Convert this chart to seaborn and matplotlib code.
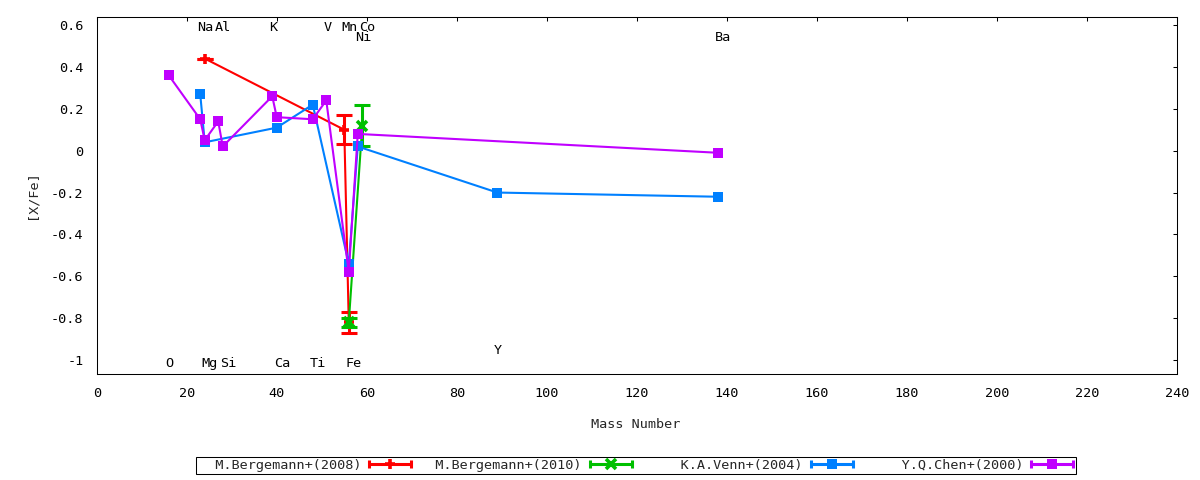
import numpy as np
import pandas as pd
import matplotlib
matplotlib.use("Agg")
import matplotlib.pyplot as plt
import seaborn as sns
from matplotlib.lines import Line2D
from matplotlib.legend_handler import HandlerLine2D, HandlerTuple
from matplotlib.ticker import FuncFormatter

# ---------------- data ----------------
berg08_mass = [24, 55, 56]
berg08_val = [0.44, 0.10, -0.82]
berg08_err = [0.0, 0.07, 0.05]

berg10_mass = [56, 59]
berg10_val = [-0.82, 0.12]
berg10_err = [0.02, 0.10]

venn_mass = [23, 24, 40, 48, 56, 58, 89, 138]
venn_val = [0.27, 0.04, 0.11, 0.22, -0.54, 0.02, -0.20, -0.22]

chen_mass = [16, 23, 24, 27, 28, 39, 40, 48, 51, 56, 58, 138]
chen_val = [0.36, 0.15, 0.05, 0.14, 0.02, 0.26, 0.16, 0.15, 0.24, -0.58, 0.08, -0.01]

label_text = ["O", "Na", "Mg", "Al", "Si", "K", "Ca", "Ti", "V", "Mn", "Fe", "Co", "Ni", "Y", "Ba"]
label_mass = [16, 23, 24, 27, 28, 39, 40, 48, 51, 55, 56, 59, 58, 89, 138]
label_y = [-1.015, 0.59, -1.015, 0.59, -1.015, 0.59, -1.015, -1.015, 0.59, 0.59, -1.015, 0.59, 0.54, -0.952, 0.54]

series_names = ["M.Bergemann+(2008)", "M.Bergemann+(2010)", "K.A.Venn+(2004)", "Y.Q.Chen+(2000)"]
x_ticks = list(range(0, 241, 20))
y_ticks = [-1.0, -0.8, -0.6, -0.4, -0.2, 0.0, 0.2, 0.4, 0.6]

# ---------------- style ----------------
sns.set_theme(style="white")
plt.rcParams["font.family"] = ["DejaVu Sans Mono", "DejaVu Sans"]
plt.rcParams["axes.unicode_minus"] = False
FS = 9.7

colors = ["#ff0000", "#00c000", "#0080ff", "#c000ff"]
markers = ["+", "x", "s", "s"]

fig = plt.figure(figsize=(12, 4.8), dpi=100)
W, H = 1200, 480
left, right, top, bottom = 96.7, 1177.0, 17.5, 374.3
ax = fig.add_axes([left / W, 1 - bottom / H, (right - left) / W, (bottom - top) / H])

series = [
    (berg08_mass, berg08_val, berg08_err),
    (berg10_mass, berg10_val, berg10_err),
    (venn_mass, venn_val, None),
    (chen_mass, chen_val, None),
]

for i, (m, v, e) in enumerate(series):
    c = colors[i]
    mk = markers[i]
    z = 2 + i
    if e is not None:
        ax.errorbar(m, v, yerr=e, fmt="none", ecolor=c, elinewidth=2.2,
                    capsize=5.8, capthick=2.2, zorder=z)
    df = pd.DataFrame({"mass": m, "val": v})
    if mk == "s":
        mkw = dict(marker="s", markersize=7.2, markeredgewidth=0, markerfacecolor=c, markeredgecolor=c)
    else:
        mkw = dict(marker=mk, markersize=7, markeredgewidth=2.6, markeredgecolor=c)
    sns.lineplot(data=df, x="mass", y="val", sort=False, estimator=None, color=c,
                 lw=1.5, ax=ax, legend=False, zorder=z, **mkw)

ax.set_xlim(0, 240)
ax.set_ylim(-1.068, 0.636)
ax.set_xticks(x_ticks)
ax.set_yticks(y_ticks)


def fmt(v, p):
    r = round(v, 2)
    if r == 0:
        r = 0
    return f"{r:g}"


ax.xaxis.set_major_formatter(FuncFormatter(fmt))
ax.yaxis.set_major_formatter(FuncFormatter(fmt))
ax.tick_params(direction="in", length=3.2, width=0.75, top=True, right=True,
               labelsize=FS, pad=9.5, colors="black")
for s in ax.spines.values():
    s.set_linewidth(0.75)
    s.set_color("black")

for t, mm, yy in zip(label_text, label_mass, label_y):
    ax.annotate(t, xy=(mm, yy), xytext=(-2.2, 0), textcoords="offset points",
                ha="left", va="center", fontsize=FS, color="black")

ax.set_xlabel("Mass Number", fontsize=FS)
ax.set_ylabel("[X/Fe]", fontsize=FS)
ax.xaxis.label.set_va("center")
ax.xaxis.set_label_coords((636 - left) / (right - left), (bottom - 425) / (bottom - top))
ax.yaxis.label.set_va("center")
ax.yaxis.set_label_coords((32 - left) / (right - left), (bottom - 195) / (bottom - top))

# ---------------- legend ----------------
handles = []
hmap = {}
for i in range(4):
    c = colors[i]
    caps = Line2D([], [], color=c, lw=2.2, marker="|", markersize=6, markeredgewidth=2.2)
    if markers[i] == "s":
        mid = Line2D([], [], color=c, lw=0, marker="s", markersize=7.2, markeredgewidth=0)
    else:
        mid = Line2D([], [], color=c, lw=0, marker=markers[i], markersize=7, markeredgewidth=2.6)
    hmap[caps] = HandlerLine2D(numpoints=2, marker_pad=0)
    handles.append((caps, mid))
hmap[tuple] = HandlerTuple(ndivide=1)
labels = [n.rjust(20) for n in series_names]
leg = fig.legend(handles, labels, loc="center", bbox_to_anchor=(636 / W, 1 - 465.5 / H),
                 ncol=4, markerfirst=False, frameon=True, fancybox=False, edgecolor="black",
                 framealpha=1, borderpad=0.15, handlelength=3.12, handletextpad=0.59,
                 columnspacing=0.62, fontsize=FS, handler_map=hmap, borderaxespad=0)
leg.get_frame().set_linewidth(0.75)

fig.savefig("out.png", dpi=100)
